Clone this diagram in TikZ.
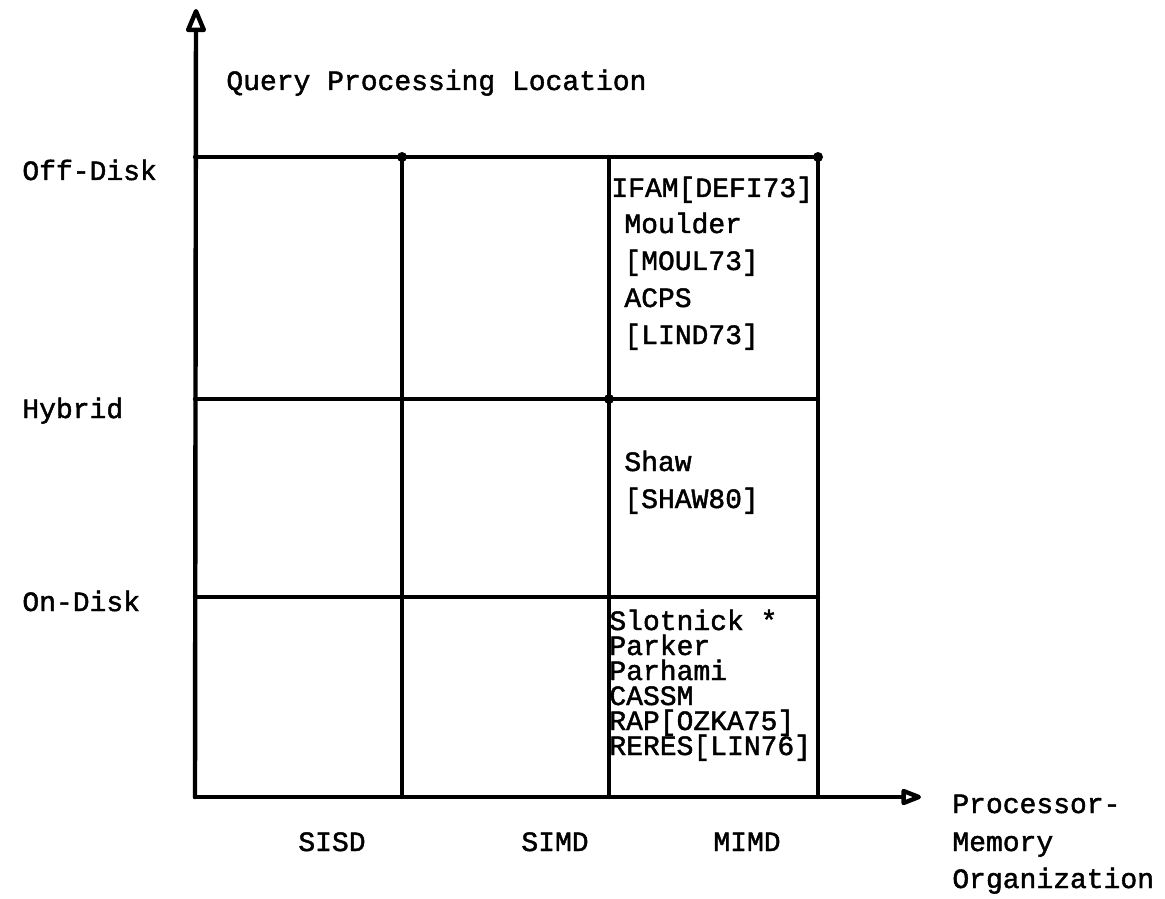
\documentclass[tikz,border=0pt]{standalone}
\usepackage{fontspec}
\setmonofont[FakeBold=1.6]{Liberation Mono}
\usetikzlibrary{arrows.meta}
\begin{document}
\begin{tikzpicture}[x=0.5pt,y=-0.5pt,
  lbl/.style={font=\ttfamily\fontsize{14}{14}\selectfont, inner sep=0pt, anchor=west, text height=8pt, text depth=0pt},
  gridline/.style={line width=2.2pt, line cap=round, line join=round},
  dotnode/.style={circle, fill=black, inner sep=0pt, minimum size=5pt}]
\useasboundingbox (0,0) rectangle (1165,898);
\foreach \n/\x in {0/195,1/402,2/609,3/818}{
  \foreach \m/\y in {0/157,1/399,2/597,3/797}{
    \coordinate (p\n\m) at (\x,\y);
  }
}
\coordinate (ytip) at (196,9);
\coordinate (xtip) at (921,797);
% axes
\draw[gridline, -{Triangle[open,length=13.5pt,width=10.5pt,round]}] (p03) -- (ytip);
\draw[gridline, -{Triangle[open,length=12pt,width=8.5pt,round]}] (p03) -- (xtip);
% grid
\draw[gridline] (p00) -- (p30);
\draw[gridline] (p01) -- (p31);
\draw[gridline] (p02) -- (p32);
\draw[gridline] (p10) -- (p13);
\draw[gridline] (p20) -- (p23);
\draw[gridline] (p30) -- (p33);
\node[dotnode] (d1) at (p10) {};
\node[dotnode] (d2) at (p30) {};
\node[dotnode] (d3) at (p21) {};
% axis labels
\node[lbl] (ylabel) at (226,82) {Query Processing Location};
\node[lbl] (off) at (22,172) {Off-Disk};
\node[lbl] (hyb) at (22,410) {Hybrid};
\node[lbl] (on) at (22,603) {On-Disk};
\node[lbl] (sisd) at (298,843) {SISD};
\node[lbl] (simd) at (521,843) {SIMD};
\node[lbl] (mimd) at (713,843) {MIMD};
\node[lbl] (xl1) at (952,805) {Processor-};
\node[lbl] (xl2) at (952,843) {Memory};
\node[lbl] (xl3) at (952,880) {Organization};
% off-disk MIMD
\node[lbl] (t1) at (611,189) {IFAM[DEFI73]};
\node[lbl] (t2) at (624,225) {Moulder};
\node[lbl] (t3) at (624,262) {[MOUL73]};
\node[lbl] (t4) at (624,299) {ACPS};
\node[lbl] (t5) at (624,336) {[LIND73]};
% hybrid MIMD
\node[lbl] (s1) at (624,463) {Shaw};
\node[lbl] (s2) at (624,500) {[SHAW80]};
% on-disk MIMD
\node[lbl] (o1) at (609,622) {Slotnick *};
\node[lbl] (o2) at (609,647) {Parker};
\node[lbl] (o3) at (609,672) {Parhami};
\node[lbl] (o4) at (609,697) {CASSM};
\node[lbl] (o5) at (609,722) {RAP[OZKA75]};
\node[lbl] (o6) at (609,747) {RERES[LIN76]};
\end{tikzpicture}
\end{document}
